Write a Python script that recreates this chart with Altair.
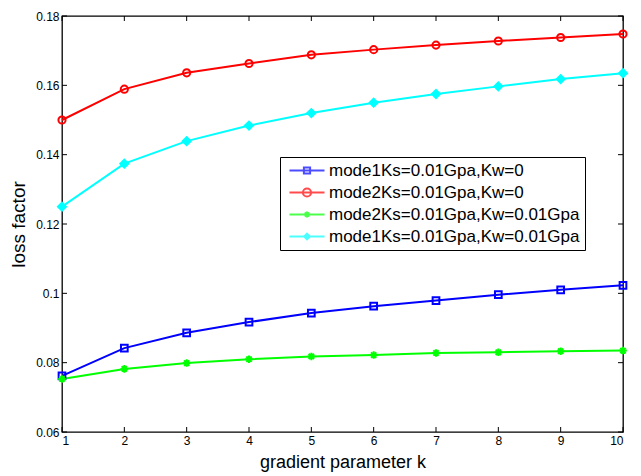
import altair as alt
import pandas as pd

# gradient parameter k
k_values = [1, 2, 3, 4, 5, 6, 7, 8, 9, 10]

# loss factor for each case
mode1_kw0 = [0.0762, 0.0842, 0.0886, 0.0917, 0.0943, 0.0963, 0.0979, 0.0996, 0.1010, 0.1023]
mode2_kw0 = [0.1500, 0.1589, 0.1636, 0.1663, 0.1688, 0.1703, 0.1716, 0.1728, 0.1738, 0.1748]
mode2_kw1 = [0.0753, 0.0782, 0.0799, 0.0810, 0.0818, 0.0822, 0.0828, 0.0830, 0.0833, 0.0835]
mode1_kw1 = [0.1250, 0.1374, 0.1439, 0.1484, 0.1520, 0.1550, 0.1575, 0.1597, 0.1618, 0.1635]

series_names = [
    "mode1Ks=0.01Gpa,Kw=0",
    "mode2Ks=0.01Gpa,Kw=0",
    "mode2Ks=0.01Gpa,Kw=0.01Gpa",
    "mode1Ks=0.01Gpa,Kw=0.01Gpa",
]
series_values = [mode1_kw0, mode2_kw0, mode2_kw1, mode1_kw1]
series_colors = ["#0000ff", "#ff0000", "#00ff00", "#00ffff"]

x_ticks = [1, 2, 3, 4, 5, 6, 7, 8, 9, 10]
y_ticks = [0.06, 0.08, 0.10, 0.12, 0.14, 0.16, 0.18]

W, H = 561, 416
FONT = "Liberation Sans"
TICK = 5

rows = []
for name, vals in zip(series_names, series_values):
    for kk, v in zip(k_values, vals):
        rows.append({"k": kk, "loss": v, "series": name})
df = pd.DataFrame(rows)

# plot markers: open square, open circle, asterisk, filled diamond
marker_shapes = [
    "square",
    "circle",
    "M-1,0H1M0,-1V1M-0.7,-0.7L0.7,0.7M-0.7,0.7L0.7,-0.7",
    "diamond",
]
marker_sizes = [45, 64, 36, 40]
marker_fill = ["transparent", "transparent", "transparent", "#00ffff"]

# legend glyphs: a line segment with the marker drawn on it
legend_shapes = [
    "M-1,0H7.75M2.6,-0.775H4.15V0.775H2.6Z",
    "M-1,0H7.75M4.4,0A1.025,1.025 0 1,1 2.35,0A1.025,1.025 0 1,1 4.4,0",
    "M-1,0H7.75M2.625,0H4.125M3.375,-0.75V0.75M2.85,-0.53L3.9,0.53M2.85,0.53L3.9,-0.53",
    "M-1,0H7.75M3.375,-0.7L4.075,0L3.375,0.7L2.675,0Z",
]

x_enc = alt.X(
    "k:Q",
    scale=alt.Scale(domain=[1, 10], nice=False, zero=False),
    axis=alt.Axis(
        values=x_ticks, format="d", title="gradient parameter k",
        ticks=False, domain=False, grid=False, labelPadding=3,
        labelFont=FONT, labelFontSize=12, labelColor="#000000",
        titleFont=FONT, titleFontSize=18, titleFontWeight="normal", titleColor="#000000",
        titleX=W / 2, titleY=30, titleBaseline="middle",
    ),
)
y_enc = alt.Y(
    "loss:Q",
    scale=alt.Scale(domain=[0.06, 0.18], nice=False, zero=False),
    axis=alt.Axis(
        values=y_ticks, format="~g", title="loss factor",
        ticks=False, domain=False, grid=False, labelPadding=3,
        labelFont=FONT, labelFontSize=12, labelColor="#000000",
        titleFont=FONT, titleFontSize=19, titleFontWeight="normal", titleColor="#000000",
        titleX=-44, titleY=H / 2, titleBaseline="middle", titleAngle=-90,
    ),
)

base = alt.Chart(df)

lines = base.mark_line(strokeWidth=2).encode(
    x=x_enc,
    y=y_enc,
    color=alt.Color("series:N", scale=alt.Scale(domain=series_names, range=series_colors), legend=None),
)

markers = base.mark_point(filled=True, strokeWidth=2, opacity=1).encode(
    x="k:Q",
    y="loss:Q",
    stroke=alt.Stroke("series:N", scale=alt.Scale(domain=series_names, range=series_colors), legend=None),
    fill=alt.Fill("series:N", scale=alt.Scale(domain=series_names, range=marker_fill), legend=None),
    shape=alt.Shape("series:N", scale=alt.Scale(domain=series_names, range=marker_shapes), legend=None),
    size=alt.Size("series:N", scale=alt.Scale(domain=series_names, range=marker_sizes), legend=None),
)

legend_cfg = alt.Legend(
    title=None, orient="none", legendX=218, legendY=141,
    labelFont=FONT, labelFontSize=17, labelColor="#000000", labelLimit=400,
    symbolSize=64, symbolStrokeWidth=2, symbolType="circle",
    labelOffset=27, rowPadding=4, padding=5,
    strokeColor="#000000", fillColor="#ffffff",
)
legend_layer = base.transform_filter("false").mark_point(filled=False, strokeWidth=2).encode(
    x="k:Q",
    y="loss:Q",
    stroke=alt.Stroke("series:N", scale=alt.Scale(domain=series_names, range=series_colors), legend=legend_cfg),
    shape=alt.Shape("series:N", scale=alt.Scale(domain=series_names, range=legend_shapes), legend=legend_cfg),
)

# inward tick marks on all four sides
xt = alt.Chart(pd.DataFrame({"k": x_ticks}))
yt = alt.Chart(pd.DataFrame({"loss": y_ticks}))
tick_bottom = xt.mark_rule(color="black", strokeWidth=1).encode(x="k:Q", y=alt.value(H), y2=alt.value(H - TICK))
tick_top = xt.mark_rule(color="black", strokeWidth=1).encode(x="k:Q", y=alt.value(0), y2=alt.value(TICK))
tick_left = yt.mark_rule(color="black", strokeWidth=1).encode(y="loss:Q", x=alt.value(0), x2=alt.value(TICK))
tick_right = yt.mark_rule(color="black", strokeWidth=1).encode(y="loss:Q", x=alt.value(W - TICK), x2=alt.value(W))

chart = (
    alt.layer(lines, markers, legend_layer, tick_bottom, tick_top, tick_left, tick_right)
    .resolve_scale(stroke="independent", shape="independent", fill="independent",
                   color="independent", size="independent")
    .properties(
        width=W,
        height=H,
        autosize=alt.AutoSizeParams(type="none"),
        padding={"left": 62, "top": 16, "right": 18, "bottom": 44},
        background="#ffffff",
    )
    .configure_view(stroke="#000000", strokeWidth=1.3, fill="#ffffff")
)

chart.save("out.html", embed_options={"renderer": "svg", "actions": False})
